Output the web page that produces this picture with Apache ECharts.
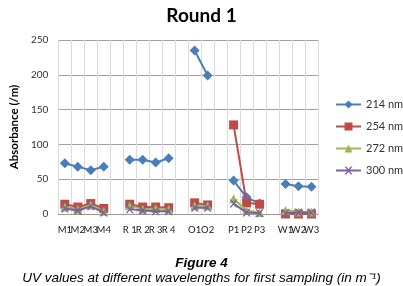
<!DOCTYPE html>
<html><head><meta charset="utf-8">
<script src="https://cdn.jsdelivr.net/npm/echarts@6/dist/echarts.min.js"></script>
<style>html,body{margin:0;padding:0;background:#fff}#c{width:403px;height:286px}</style>
</head><body><div id="c"></div>
<script>
var categories = ['M1','M2','M3','M4','', 'R 1','R 2','R 3','R 4','', 'O1','O2','', 'P1','P2','P3','', 'W1','W2','W3'];
var s214 = [73,68,63,68,null, 78,78,74,80,null, 235,199,null, 48,24,15,null, 43,40,39];
var s254 = [14,10,15,8,null, 14,10,10,9,null, 16,13,null, 128,16,14,null, 0,0,0];
var s272 = [10,7,13,4,null, 12,7,8,7,null, 12,12,null, 22,5,2,null, 5,3,3];
var s300 = [8,5,11,2,null, 7,5,4,4,null, 9,9,null, 15,2,1,null, 1,2,2];
var seriesNames = ['214 nm','254 nm','272 nm','300 nm'];
var yTicks = [0,50,100,150,200,250];

var xPath = 'path://M0,0 L2,0 L5,3.5 L8,0 L10,0 L6,5 L10,10 L8,10 L5,6.5 L2,10 L0,10 L4,5 Z';
var colors = ['#4a7ebb','#be4b48','#98b954','#7d60a0'];
var symbols = ['diamond','rect', 'triangle', xPath];
var sizes = [10,9,9,8];
var data = [s214,s254,s272,s300];
var minor = []; for (var i=0;i<categories.length*2;i++) minor.push('');

var chart = echarts.init(document.getElementById('c'));
chart.setOption({
  animation:false,
  title:[
    {text:'Round 1', left:'center', top:1, textStyle:{fontFamily:'Lato', fontWeight:'bold', fontSize:19, color:'#000'}},
    {text:'Figure 4', left:'center', top:251, textStyle:{fontFamily:'Liberation Sans', fontStyle:'italic', fontWeight:'bold', fontSize:13.5, color:'#000'}},
    {text:'UV values at different wavelengths for first sampling (in m\u207B\u00B9)', left:'center', top:266, textStyle:{fontFamily:'Liberation Sans', fontStyle:'italic', fontWeight:'normal', fontSize:13.5, color:'#000'}}
  ],
  grid:{left:48, right:85, top:40, bottom:72},
  legend:{orient:'vertical', left:330, top:94, itemGap:11, itemWidth:25, itemHeight:10,
    textStyle:{fontFamily:'Lato', fontSize:11, color:'#333'}, data:seriesNames},
  xAxis:[
    {type:'category', data:categories, boundaryGap:true,
     axisLine:{lineStyle:{color:'#999'}}, axisTick:{show:false},
     axisLabel:{interval:0, fontFamily:'Lato', fontSize:9.5, color:'#222', margin:11},
     splitLine:{show:true, lineStyle:{color:'#c8c8c8', width:1}}},
    {type:'category', data:minor, boundaryGap:true, position:'bottom', gridIndex:0,
     axisLine:{show:false}, axisTick:{show:false}, axisLabel:{show:false},
     splitLine:{show:true, lineStyle:{color:'#dcdcdc', width:1}}}
  ],
  yAxis:{type:'value', min:yTicks[0], max:yTicks[yTicks.length-1], interval:50,
    name:'Absorbance (/m)', nameLocation:'middle', nameGap:31,
    nameTextStyle:{fontFamily:'Lato', fontWeight:'bold', fontSize:11.5, color:'#000'},
    axisLine:{show:false}, axisTick:{show:false},
    axisLabel:{fontFamily:'Lato', fontSize:10, color:'#333', margin:10},
    splitLine:{lineStyle:{color:'#a0a0a0'}}},
  series: data.map(function(d,i){
    return {name:seriesNames[i], type:'line', data:d, xAxisIndex:0, connectNulls:false,
      symbol:symbols[i], symbolSize:sizes[i], showAllSymbol:true,
      lineStyle:{color:colors[i], width:2}, itemStyle:{color:colors[i]}, z:2+i};
  })
});
</script></body></html>
